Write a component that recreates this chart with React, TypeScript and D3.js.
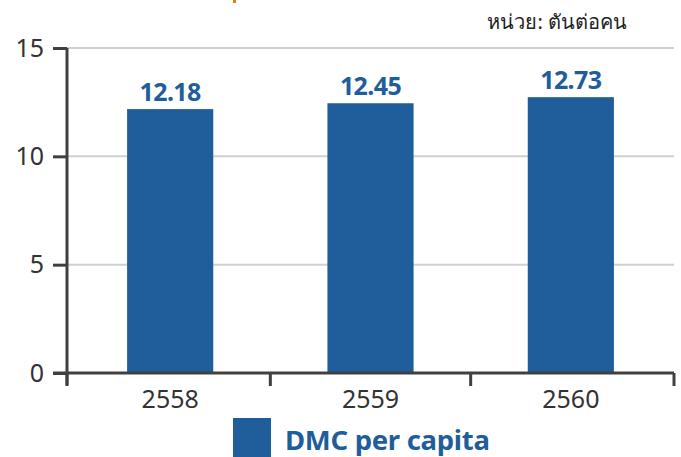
import { useEffect, useRef } from "react";
import * as d3 from "d3";

const years = ["2558", "2559", "2560"];
const dmcPerCapita = [12.18, 12.45, 12.73];
const yTicks = [0, 5, 10, 15];
const seriesName = "DMC per capita";
const unitLabel = "หน่วย: ตันต่อคน";

const WIDTH = 681;
const HEIGHT = 457;
const BLUE = "#1f5d9b";
const FONT = "'Noto Sans', 'Open Sans', sans-serif";

export default function App() {
  const svgRef = useRef<SVGSVGElement>(null);

  useEffect(() => {
    if (!svgRef.current) return;
    const svg = d3.select(svgRef.current);
    svg.selectAll("*").remove();

    const margin = { top: 48, right: 7, bottom: 84, left: 67 };
    const innerWidth = WIDTH - margin.left - margin.right;
    const innerHeight = HEIGHT - margin.top - margin.bottom;

    const g = svg
      .append("g")
      .attr("transform", `translate(${margin.left},${margin.top})`);

    const xScale = d3
      .scaleBand()
      .domain(years)
      .range([0, innerWidth])
      .paddingInner(0.57)
      .paddingOuter(0.3);

    const yScale = d3.scaleLinear().domain([0, 15]).range([innerHeight, 0]);

    // gridlines
    g.selectAll(".grid")
      .data(yTicks.filter(t => t > 0))
      .enter()
      .append("line")
      .attr("x1", 0)
      .attr("x2", innerWidth)
      .attr("y1", d => yScale(d))
      .attr("y2", d => yScale(d))
      .attr("stroke", "#d0d0d0")
      .attr("stroke-width", 2);

    // bars
    g.selectAll(".bar")
      .data(dmcPerCapita)
      .enter()
      .append("rect")
      .attr("x", (_, i) => xScale(years[i]) || 0)
      .attr("width", xScale.bandwidth())
      .attr("y", d => yScale(d))
      .attr("height", d => innerHeight - yScale(d))
      .attr("fill", BLUE);

    // value labels
    g.selectAll(".label")
      .data(dmcPerCapita)
      .enter()
      .append("text")
      .attr("x", (_, i) => (xScale(years[i]) || 0) + xScale.bandwidth() / 2)
      .attr("y", d => yScale(d) - 8)
      .attr("text-anchor", "middle")
      .attr("font-family", FONT)
      .attr("font-weight", "bold")
      .attr("font-size", 25)
      .attr("letter-spacing", -0.6)
      .attr("fill", BLUE)
      .text(d => d.toFixed(2));

    // y axis
    const yAxis = g
      .append("g")
      .call(
        d3.axisLeft(yScale).tickValues(yTicks).tickSize(14).tickPadding(9)
      );
    yAxis.select(".domain").remove();
    yAxis.selectAll(".tick line").attr("stroke", "#404040").attr("stroke-width", 3);
    yAxis
      .selectAll(".tick text")
      .attr("font-family", FONT)
      .attr("font-size", 25)
      .attr("fill", "#333");
    g.append("line")
      .attr("x1", 0)
      .attr("x2", 0)
      .attr("y1", 0)
      .attr("y2", innerHeight + 12)
      .attr("stroke", "#404040")
      .attr("stroke-width", 3);

    // x axis
    const xAxis = g
      .append("g")
      .attr("transform", `translate(0,${innerHeight})`)
      .call(d3.axisBottom(xScale).tickSize(0).tickPadding(17));
    xAxis.select(".domain").remove();
    xAxis
      .selectAll(".tick text")
      .attr("font-family", FONT)
      .attr("font-size", 25)
      .attr("fill", "#333");
    g.append("line")
      .attr("x1", -14)
      .attr("x2", innerWidth)
      .attr("y1", innerHeight)
      .attr("y2", innerHeight)
      .attr("stroke", "#404040")
      .attr("stroke-width", 3);
    // band separator ticks
    const edges = years.map(y => (xScale(y) || 0) - (xScale.step() * xScale.paddingInner()) / 2);
    edges.push(innerWidth);
    edges[0] = 0;
    g.selectAll(".sep")
      .data(edges)
      .enter()
      .append("line")
      .attr("x1", d => d)
      .attr("x2", d => d)
      .attr("y1", innerHeight)
      .attr("y2", innerHeight + 13)
      .attr("stroke", "#404040")
      .attr("stroke-width", 3);

    // unit label
    svg
      .append("text")
      .attr("x", 627)
      .attr("y", 29)
      .attr("text-anchor", "end")
      .attr("font-family", FONT)
      .attr("font-size", 20)
      .attr("fill", "#222")
      .text(unitLabel);

    // cut-off title fragment
    svg
      .append("rect")
      .attr("x", 233)
      .attr("y", 0)
      .attr("width", 3)
      .attr("height", 3)
      .attr("fill", "#c8891a");

    // legend
    const legend = svg.append("g").attr("transform", "translate(233,418)");
    legend.append("rect").attr("width", 38).attr("height", 39).attr("fill", BLUE);
    legend
      .append("text")
      .attr("x", 52)
      .attr("y", 32)
      .attr("font-family", FONT)
      .attr("font-weight", "bold")
      .attr("font-size", 27.5)
      .attr("letter-spacing", -0.3)
      .attr("fill", BLUE)
      .text(seriesName);
  }, []);

  return (
    <svg
      ref={svgRef}
      width={WIDTH}
      height={HEIGHT}
      style={{ position: "absolute", left: 0, top: 0, background: "#fff" }}
    />
  );
}
